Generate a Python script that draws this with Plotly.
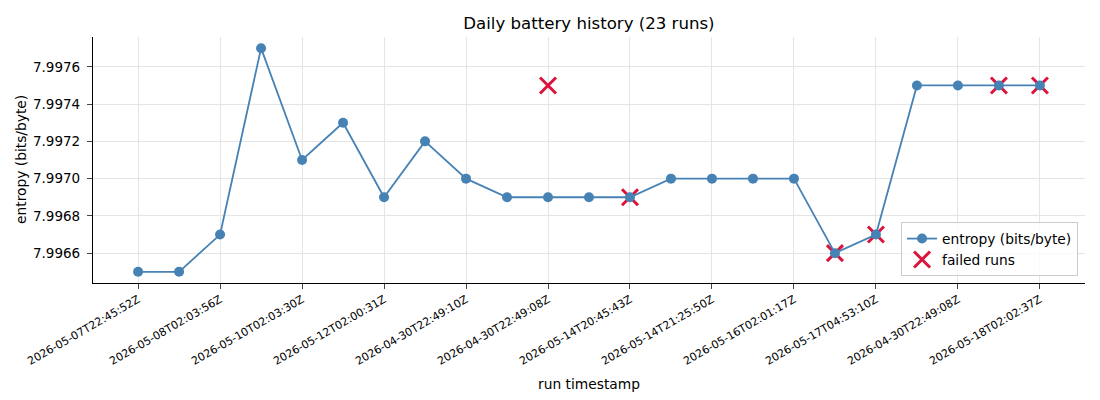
import plotly.graph_objects as go

# run timestamps (one per run, 23 runs)
runs = [
    "2026-05-07T22:45:52Z", "2026-05-07T23:10:00Z", "2026-05-08T02:03:56Z", "2026-05-09T02:03:00Z",
    "2026-05-10T02:03:30Z", "2026-05-11T02:00:00Z", "2026-05-12T02:00:31Z", "2026-05-13T02:00:00Z",
    "2026-04-30T22:49:10Z", "2026-04-30T22:49:09Z", "2026-04-30T22:49:08Z", "2026-05-14T02:00:00Z",
    "2026-05-14T20:45:43Z", "2026-05-14T21:00:00Z", "2026-05-14T21:25:50Z", "2026-05-15T02:00:00Z",
    "2026-05-16T02:01:17Z", "2026-05-17T02:00:00Z", "2026-05-17T04:53:10Z", "2026-05-17T05:00:00Z",
    "2026-04-30T22:49:08Z", "2026-05-18T02:00:00Z", "2026-05-18T02:02:37Z",
]
entropy = [
    7.9965, 7.9965, 7.9967, 7.9977, 7.9971, 7.9973, 7.9969, 7.9972,
    7.9970, 7.9969, 7.9969, 7.9969, 7.9969, 7.9970, 7.9970, 7.9970,
    7.9970, 7.9966, 7.9967, 7.9975, 7.9975, 7.9975, 7.9975,
]
failed_idx = [10, 12, 17, 18, 21, 22]
failed_val = [7.9975, 7.9969, 7.9966, 7.9967, 7.9975, 7.9975]

x = list(range(len(runs)))
tick_idx = x[::2]
tick_txt = [runs[i] for i in tick_idx]

fig = go.Figure()
fig.add_scatter(x=failed_idx, y=failed_val, mode="markers", name="failed runs",
                legendrank=2,
                marker=dict(symbol="x-thin-open", size=16, color="crimson",
                            line=dict(color="crimson", width=3)))
fig.add_scatter(x=x, y=entropy, mode="lines+markers", name="entropy (bits/byte)",
                legendrank=1,
                line=dict(color="steelblue", width=1.8),
                marker=dict(size=10, color="steelblue"))

# page body has an 8px margin, so the figure is drawn 8px smaller
fig.update_layout(
    width=1092, height=392,
    margin=dict(l=85, r=15, t=29, b=117),
    plot_bgcolor="white", paper_bgcolor="white",
    font=dict(family="DejaVu Sans", color="black"),
    title=dict(text="Daily battery history (23 runs)", x=0.532, xanchor="center",
               y=0.962, yanchor="middle", font=dict(size=16.6)),
    legend=dict(x=0.993, y=0.028, xanchor="right", yanchor="bottom",
                bordercolor="#cccccc", borderwidth=1, bgcolor="rgba(255,255,255,0.8)",
                font=dict(size=13.8)),
)
# y title as annotation so it sits as far left as in the reference
fig.add_annotation(text="entropy (bits/byte)", textangle=-90, showarrow=False,
                   xref="paper", yref="paper", x=0, y=0.5, xshift=-72,
                   xanchor="center", yanchor="middle", font=dict(size=13.8))
fig.update_xaxes(range=[-1.1, 23.1], tickvals=tick_idx, ticktext=tick_txt,
                 tickangle=-30, tickfont=dict(size=11), ticks="outside", ticklen=5,
                 showline=True, linecolor="black", linewidth=1.2, automargin=False,
                 showgrid=True, gridcolor="#e5e5e5", zeroline=False,
                 title=dict(text="run timestamp", font=dict(size=13.8), standoff=12))
fig.update_yaxes(range=[7.99644, 7.99776], dtick=0.0002, tickformat=".4f",
                 tickfont=dict(size=13.5), ticks="outside", ticklen=5,
                 ticklabelstandoff=4,
                 showline=True, linecolor="black", linewidth=1.2, automargin=False,
                 showgrid=True, gridcolor="#e5e5e5", zeroline=False)

fig.write_html("out.html")
